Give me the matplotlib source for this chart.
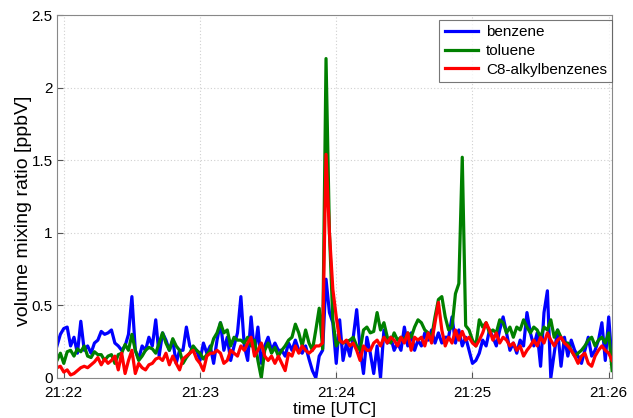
import numpy as np
import matplotlib
matplotlib.use("Agg")
from matplotlib import pyplot as plt
import matplotlib.dates as mdates

# samples every 1.5 s, starting 21:21:57
start = np.datetime64("2000-01-01T21:21:57.000")
step_ms = 1500

benzene = [
    # 21:21:57 - 21:22:58
    0.22, 0.30, 0.34, 0.35, 0.22, 0.28, 0.17, 0.39, 0.19, 0.22,
    0.17, 0.24, 0.26, 0.32, 0.30, 0.31, 0.33, 0.24, 0.22, 0.19,
    0.22, 0.30, 0.56, 0.19, 0.13, 0.22, 0.19, 0.28, 0.22, 0.40,
    0.15, 0.31, 0.26, 0.19, 0.26, 0.10, 0.19, 0.19, 0.35, 0.22,
    0.19, 0.19,
    # 21:23:00 - 21:23:55
    0.12, 0.24, 0.17, 0.22, 0.10, 0.26, 0.38, 0.19, 0.28, 0.12,
    0.22, 0.31, 0.56, 0.22, 0.12, 0.42, 0.17, 0.35, 0.10, 0.22,
    0.28, 0.19, 0.24, 0.19, 0.19, 0.15, 0.24, 0.19, 0.26, 0.19,
    0.17, 0.22, 0.13, 0.05, 0.00, 0.15, 0.19, 0.68,
    # 21:23:57 - 21:24:54
    0.45, 0.38, 0.10, 0.40, 0.12, 0.24, 0.15, 0.28, 0.47, 0.20,
    0.03, 0.28, 0.17, 0.03, 0.22, 0.00, 0.33, 0.24, 0.28, 0.19,
    0.24, 0.19, 0.35, 0.22, 0.31, 0.19, 0.26, 0.22, 0.31, 0.26,
    0.33, 0.24, 0.31, 0.24, 0.28, 0.28, 0.42, 0.24, 0.33,
    # 21:24:55 - 21:26:01
    0.22, 0.28, 0.19, 0.10, 0.12, 0.17, 0.26, 0.22, 0.33, 0.28,
    0.22, 0.33, 0.42, 0.31, 0.19, 0.24, 0.17, 0.26, 0.22, 0.45,
    0.31, 0.22, 0.31, 0.08, 0.45, 0.60, 0.00, 0.17, 0.33, 0.08,
    0.28, 0.15, 0.26, 0.19, 0.15, 0.10, 0.19, 0.28, 0.15, 0.19,
    0.26, 0.38, 0.12, 0.42, 0.10,
]
toluene = [
    0.12, 0.17, 0.10, 0.18, 0.19, 0.15, 0.20, 0.18, 0.22, 0.15,
    0.14, 0.18, 0.16, 0.16, 0.12, 0.15, 0.16, 0.10, 0.16, 0.17,
    0.23, 0.19, 0.30, 0.19, 0.12, 0.15, 0.19, 0.21, 0.20, 0.17,
    0.24, 0.31, 0.24, 0.19, 0.27, 0.22, 0.19, 0.10, 0.14, 0.17,
    0.22, 0.19,
    0.17, 0.13, 0.16, 0.19, 0.27, 0.31, 0.38, 0.31, 0.33, 0.22,
    0.28, 0.26, 0.26, 0.24, 0.28, 0.22, 0.26, 0.12, 0.00, 0.19,
    0.24, 0.17, 0.21, 0.15, 0.19, 0.22, 0.26, 0.28, 0.37, 0.31,
    0.22, 0.33, 0.24, 0.19, 0.33, 0.48, 0.20, 2.20,
    1.00, 0.40, 0.22, 0.26, 0.24, 0.25, 0.26, 0.28, 0.22, 0.19,
    0.33, 0.35, 0.31, 0.32, 0.45, 0.33, 0.38, 0.28, 0.24, 0.31,
    0.26, 0.28, 0.26, 0.31, 0.28, 0.35, 0.40, 0.38, 0.33, 0.31,
    0.28, 0.42, 0.54, 0.56, 0.42, 0.33, 0.35, 0.58, 0.65,
    1.52, 0.36, 0.33, 0.26, 0.22, 0.40, 0.35, 0.38, 0.31, 0.33,
    0.31, 0.40, 0.38, 0.31, 0.35, 0.28, 0.35, 0.33, 0.40, 0.35,
    0.31, 0.35, 0.33, 0.28, 0.35, 0.33, 0.40, 0.28, 0.33, 0.28,
    0.24, 0.24, 0.19, 0.15, 0.17, 0.19, 0.22, 0.26, 0.28, 0.22,
    0.26, 0.28, 0.24, 0.31, 0.05,
]
c8_alkylbenzenes = [
    0.07, 0.08, 0.04, 0.055, 0.02, 0.03, 0.05, 0.07, 0.08, 0.07,
    0.09, 0.11, 0.14, 0.09, 0.13, 0.10, 0.12, 0.15, 0.055, 0.17,
    0.03, 0.12, 0.19, 0.03, 0.10, 0.07, 0.055, 0.09, 0.10, 0.13,
    0.14, 0.12, 0.17, 0.09, 0.15, 0.10, 0.055, 0.13, 0.15, 0.17,
    0.19, 0.13,
    0.10, 0.05, 0.15, 0.17, 0.17, 0.19, 0.17, 0.10, 0.12, 0.19,
    0.17, 0.15, 0.22, 0.19, 0.24, 0.28, 0.15, 0.19, 0.24, 0.15,
    0.12, 0.15, 0.10, 0.15, 0.10, 0.05, 0.17, 0.15, 0.22, 0.17,
    0.22, 0.19, 0.17, 0.19, 0.22, 0.22, 0.24, 1.54,
    1.00, 0.61, 0.42, 0.26, 0.24, 0.26, 0.22, 0.24, 0.19, 0.12,
    0.22, 0.19, 0.19, 0.24, 0.26, 0.22, 0.28, 0.24, 0.28, 0.26,
    0.22, 0.28, 0.24, 0.31, 0.19, 0.28, 0.26, 0.28, 0.22, 0.31,
    0.24, 0.38, 0.52, 0.33, 0.22, 0.28, 0.24, 0.33, 0.26,
    0.32, 0.26, 0.28, 0.24, 0.22, 0.26, 0.31, 0.38, 0.33, 0.26,
    0.31, 0.24, 0.28, 0.26, 0.22, 0.24, 0.19, 0.22, 0.15, 0.19,
    0.22, 0.26, 0.22, 0.28, 0.24, 0.31, 0.26, 0.22, 0.26, 0.28,
    0.24, 0.22, 0.19, 0.15, 0.10, 0.15, 0.17, 0.10, 0.08, 0.15,
    0.19, 0.22, 0.19, 0.17, 0.12,
]
series = [
    ("benzene", benzene, "#0000ff"),
    ("toluene", toluene, "#008000"),
    ("C8-alkylbenzenes", c8_alkylbenzenes, "#ff0000"),
]

n = min(len(s[1]) for s in series)
times = start + np.arange(n) * np.timedelta64(step_ms, "ms")
times = times.astype(object)

plt.rcParams["font.family"] = ["Liberation Sans", "DejaVu Sans"]

fig = plt.figure(figsize=(6.33, 4.18), dpi=100)
ax = fig.add_axes([0.090, 0.096, 0.877, 0.868])

for name, values, color in series:
    ax.plot(times, values[:n], color=color, lw=2.3, label=name)

ax.set_xlim(times[0], times[-1])
ax.set_ylim(0, 2.5)
ax.set_yticks([0, 0.5, 1, 1.5, 2, 2.5])
ax.set_yticklabels(["0", "0.5", "1", "1.5", "2", "2.5"])
ax.xaxis.set_major_locator(mdates.MinuteLocator())
ax.xaxis.set_major_formatter(mdates.DateFormatter("%H:%M"))

ax.grid(True, color="#d0d0d0", linestyle=(0, (1, 2)), lw=0.8)
ax.tick_params(direction="in", labelsize=11, length=4, color="#555555")
ax.tick_params(axis="x", pad=6)
ax.tick_params(axis="y", pad=3)
for sp in ax.spines.values():
    sp.set_color("#888888")

ax.set_xlabel("time [UTC]", fontsize=12.5, labelpad=1.5)
ax.set_ylabel("volume mixing ratio [ppbV]", fontsize=14)
ax.yaxis.set_label_coords(-0.045, 0.46)

leg = ax.legend(loc="upper right", bbox_to_anchor=(1.0, 0.986), fontsize=11,
                frameon=True, fancybox=False, handlelength=2.2,
                borderaxespad=0, labelspacing=0.3, borderpad=0.35,
                handletextpad=0.5)
leg.get_frame().set_edgecolor("#555555")
leg.get_frame().set_linewidth(0.8)

fig.savefig("out.png", dpi=100)
